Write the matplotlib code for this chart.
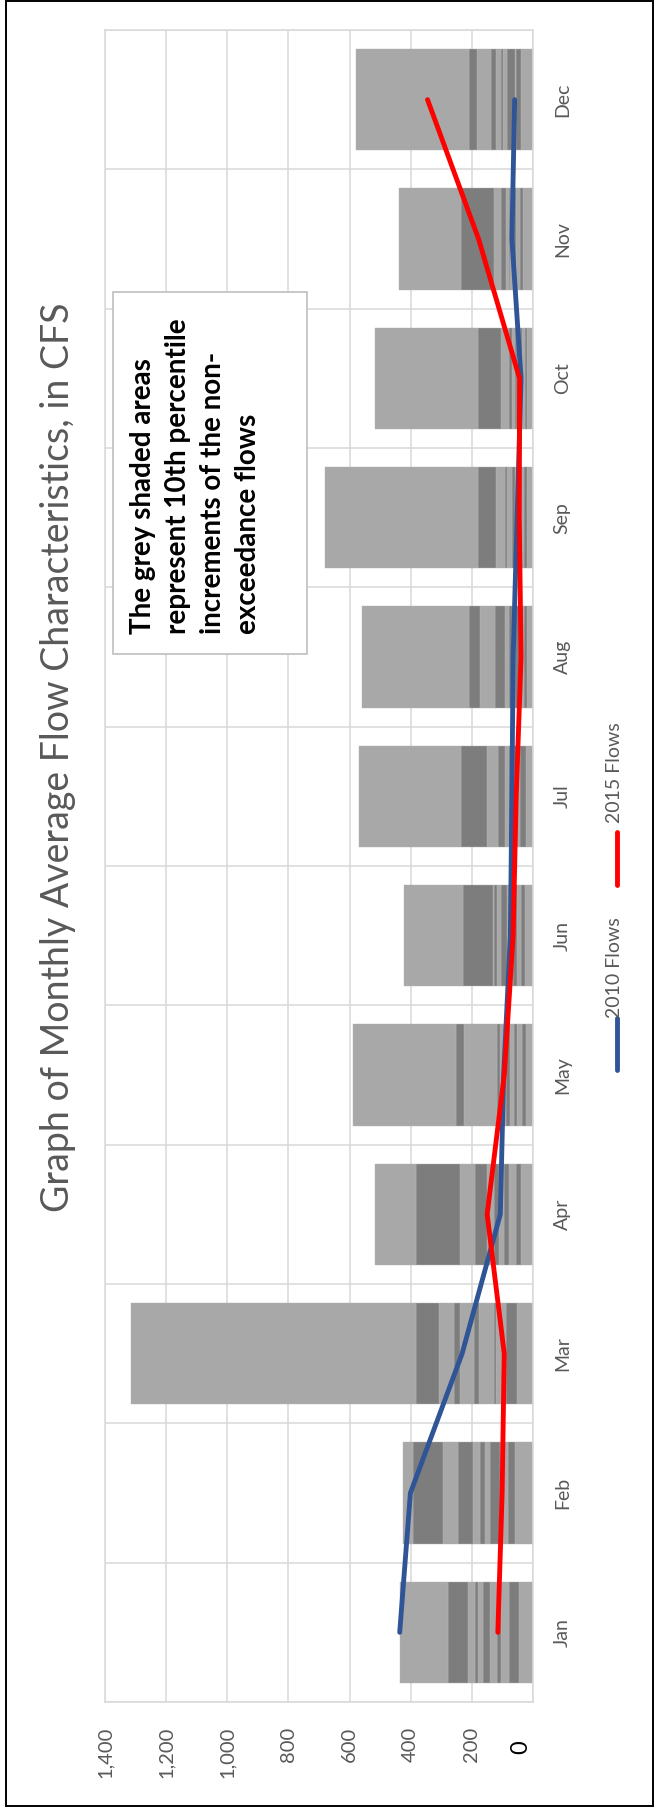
import matplotlib
matplotlib.use("Agg")
import matplotlib.pyplot as plt
from matplotlib.lines import Line2D
from matplotlib.patches import Rectangle
import numpy as np

plt.rcParams['font.family'] = ['Lato', 'DejaVu Sans']

months = ['Jan', 'Feb', 'Mar', 'Apr', 'May', 'Jun', 'Jul', 'Aug', 'Sep', 'Oct', 'Nov', 'Dec']

# cumulative percentile levels (10th ... max) for each month, CFS
jan = [47, 80, 104, 119, 141, 164, 181, 190, 213, 279, 435]
feb = [58, 82, 107, 140, 156, 172, 197, 244, 296, 392, 426]
mar = [52, 87, 121, 129, 178, 194, 238, 259, 306, 382, 1315]
apr = [38, 55, 77, 96, 112, 129, 150, 189, 238, 382, 516]
may = [22, 35, 52, 63, 74, 87, 107, 118, 227, 251, 589]
jun = [25, 38, 52, 65, 85, 105, 118, 129, 132, 229, 421]
jul = [24, 41, 52, 63, 69, 80, 90, 114, 150, 234, 570]
aug = [20, 31, 41, 58, 69, 77, 90, 123, 172, 210, 559]
sep = [20, 31, 41, 50, 58, 69, 84, 90, 120, 179, 680]
oct_ = [18, 25, 35, 44, 52, 60, 69, 80, 105, 180, 516]
nov = [33, 41, 55, 65, 74, 80, 87, 105, 126, 235, 437]
dec = [38, 57, 60, 85, 98, 104, 120, 136, 182, 208, 579]

flows_2010 = [436, 401, 232, 107, 96, 74, 69, 65, 52, 39, 69, 60]
flows_2015 = [115, 101, 94, 150, 94, 65, 55, 39, 45, 44, 178, 345]

value_ticks = [200, 400, 600, 800, 1000, 1200, 1400]
value_labels = ['200', '400', '600', '800', '1,000', '1,200', '1,400']

title = 'Graph of Monthly Average Flow Characteristics, in CFS'
note_lines = ['The grey shaded areas', 'represent 10th percentile',
              'increments of the non-', 'exceedance flows']

W, H = 654, 1812
fig = plt.figure(figsize=(W / 100, H / 100), dpi=100)
ax = fig.add_axes([105 / W, 1 - 1702 / H, (533 - 105) / W, (1702 - 30) / H])

grey = '#595959'
cum = np.array([jan, feb, mar, apr, may, jun, jul, aug, sep, oct_, nov, dec])
seg = np.diff(np.hstack([np.zeros((12, 1)), cum]), axis=1)
ypos = np.arange(len(months))
left = np.zeros(12)
for i in range(seg.shape[1]):
    col = '#a8a8a8' if i % 2 == 0 else '#7d7d7d'
    ax.barh(ypos, seg[:, i], left=left, height=0.725, color=col,
            edgecolor='#b4b4b4', linewidth=0.3, zorder=2)
    left += seg[:, i]

ax.plot(flows_2010, ypos, color='#2f5597', lw=3.5, solid_capstyle='round', zorder=3)
ax.plot(flows_2015, ypos, color='#ff0000', lw=3.5, solid_capstyle='round', zorder=4)

ax.set_xlim(1400, 0)
ax.set_ylim(-0.5, 11.5)
ax.set_xticks([0] + value_ticks)
ax.set_xticklabels([''] + value_labels, rotation=90, color=grey, fontsize=14.5)
ax.set_yticks(ypos)
ax.set_yticklabels(months, rotation=90, va='center', color=grey, fontsize=14)
ax.yaxis.tick_right()
ax.tick_params(axis='x', length=0, pad=18)
ax.tick_params(axis='y', length=0, pad=15)
ax.set_yticks(np.arange(-0.5, 12, 1), minor=True)
ax.tick_params(axis='y', which='minor', length=0)
ax.grid(axis='x', color='#d9d9d9', lw=1.1, zorder=0)
ax.grid(axis='y', which='minor', color='#d9d9d9', lw=1.1, zorder=0)
for s in ax.spines.values():
    s.set_color('#d9d9d9')
    s.set_linewidth(1.1)
ax.set_axisbelow(True)

# zero label drawn bigger and black, like the original
ax.text(40, -0.023, '0', transform=ax.get_xaxis_transform(), rotation=90,
        ha='center', va='top', fontsize=17, color='black')

# title
fig.text(58 / W, 1 - 757 / H, title, rotation=90, ha='center', va='center',
         fontsize=27, color=grey)

# note box, one text per line so the spacing matches
fig.patches.append(Rectangle((113 / W, 1 - 654 / H), (307 - 113) / W, (654 - 292) / H,
                             transform=fig.transFigure, facecolor='white',
                             edgecolor='#bfbfbf', lw=1.2, zorder=5))
for k, line in enumerate(note_lines):
    fig.text((143 + 35 * k) / W, 1 - 634 / H, line, rotation=90, ha='center',
             va='bottom', fontsize=20, fontweight='bold', color='black', zorder=6)

# legend
fig.add_artist(Line2D([617 / W, 617 / W], [1 - 1070 / H, 1 - 1018 / H], color='#2f5597',
                      lw=3.5, solid_capstyle='round'))
fig.add_artist(Line2D([617 / W, 617 / W], [1 - 885 / H, 1 - 832 / H], color='#ff0000',
                      lw=3.5, solid_capstyle='round'))
fig.text(615 / W, 1 - 968 / H, '2010 Flows', rotation=90, ha='center', va='center',
         fontsize=14, color=grey)
fig.text(615 / W, 1 - 773 / H, '2015 Flows', rotation=90, ha='center', va='center',
         fontsize=14, color=grey)

# outer frame
fig.patches.append(Rectangle((6 / W, 1 - 1806 / H), (653 - 6) / W, (1806 - 1) / H,
                             transform=fig.transFigure, fill=False,
                             edgecolor='black', lw=1.4))

fig.savefig('out.png', dpi=100)
